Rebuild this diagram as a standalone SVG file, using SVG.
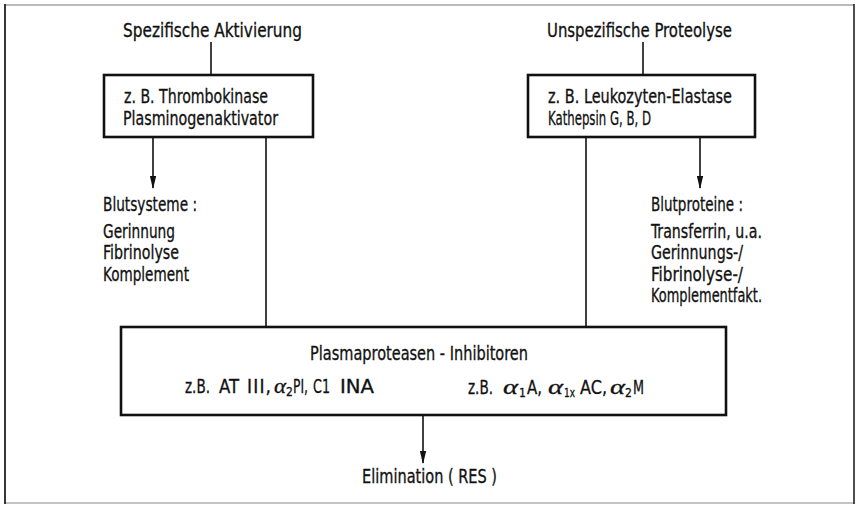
<svg xmlns="http://www.w3.org/2000/svg" width="859" height="505" viewBox="0 0 859 505">
<defs>
<style>
text{font-family:"Liberation Sans Narrow","DejaVu Sans Condensed","Liberation Sans",Arial,sans-serif;font-size:19px;fill:#111;stroke:#111;stroke-width:0.3;}
.box{fill:#fff;stroke:#111;stroke-width:2.6;}
.ln{stroke:#111;stroke-width:1.6;fill:none;}
.al{font-family:"Liberation Serif","DejaVu Serif",serif;font-style:italic;font-size:21px;}
.sub{font-size:12px;}
</style>
<marker id="ah" markerWidth="13" markerHeight="7" refX="12" refY="3.5" orient="auto" markerUnits="userSpaceOnUse" viewBox="0 0 13 7">
<path d="M0,0.3 L13,3.5 L0,6.7 Z" fill="#111"/>
</marker>
</defs>
<rect width="859" height="505" fill="#fff"/>
<g id="frame">
<line x1="5" y1="5" x2="854" y2="5" stroke="#777" stroke-width="1.2"/>
<line x1="5" y1="503" x2="854" y2="503" stroke="#888" stroke-width="1.2"/>
<line x1="5" y1="4" x2="5" y2="504" stroke="#222" stroke-width="1.8"/>
<line x1="854" y1="4" x2="854" y2="504" stroke="#222" stroke-width="1.6"/>
</g>
<g id="connectors">
<line class="ln" x1="211" y1="42" x2="211" y2="75"/>
<line class="ln" x1="643" y1="42" x2="643" y2="75"/>
<line class="ln" x1="153" y1="137" x2="153" y2="188" marker-end="url(#ah)"/>
<line class="ln" x1="700" y1="137" x2="700" y2="188" marker-end="url(#ah)"/>
<line class="ln" x1="266" y1="137" x2="266" y2="327"/>
<line class="ln" x1="586" y1="137" x2="586" y2="327"/>
<line class="ln" x1="423" y1="415" x2="423" y2="463" marker-end="url(#ah)"/>
</g>
<g id="label-spezifisch">
<text x="123" y="37" textLength="179" lengthAdjust="spacingAndGlyphs">Spezifische  Aktivierung</text>
</g>
<g id="label-unspezifisch">
<text x="547" y="37" textLength="185" lengthAdjust="spacingAndGlyphs">Unspezifische Proteolyse</text>
</g>
<g id="box-aktivatoren">
<rect class="box" x="104" y="75" width="209" height="62"/>
<text x="124" y="103" textLength="144" lengthAdjust="spacingAndGlyphs">z. B. Thrombokinase</text>
<text x="123" y="125" textLength="155" lengthAdjust="spacingAndGlyphs">Plasminogenaktivator</text>
</g>
<g id="box-proteasen">
<rect class="box" x="528" y="75" width="227" height="62"/>
<text x="548" y="103" textLength="184" lengthAdjust="spacingAndGlyphs">z. B. Leukozyten-Elastase</text>
<text x="548" y="125" textLength="103" lengthAdjust="spacingAndGlyphs">Kathepsin G, B, D</text>
</g>
<g id="blutsysteme">
<text x="103" y="211" textLength="94" lengthAdjust="spacingAndGlyphs">Blutsysteme :</text>
<text x="103" y="238" textLength="72" lengthAdjust="spacingAndGlyphs">Gerinnung</text>
<text x="103" y="259" textLength="76" lengthAdjust="spacingAndGlyphs">Fibrinolyse</text>
<text x="103" y="281" textLength="86" lengthAdjust="spacingAndGlyphs">Komplement</text>
</g>
<g id="blutproteine">
<text x="651" y="211" textLength="92" lengthAdjust="spacingAndGlyphs">Blutproteine :</text>
<text x="651" y="238" textLength="111" lengthAdjust="spacingAndGlyphs">Transferrin, u.a.</text>
<text x="651" y="259" textLength="92" lengthAdjust="spacingAndGlyphs">Gerinnungs-/</text>
<text x="651" y="281" textLength="92" lengthAdjust="spacingAndGlyphs">Fibrinolyse-/</text>
<text x="651" y="302" textLength="111" lengthAdjust="spacingAndGlyphs">Komplementfakt.</text>
</g>
<g id="box-inhibitoren">
<rect class="box" x="121" y="327" width="605" height="88"/>
<text x="310" y="360" textLength="218" lengthAdjust="spacingAndGlyphs">Plasmaproteasen - Inhibitoren</text>
<text x="185" y="393" textLength="25" lengthAdjust="spacingAndGlyphs">z.B.</text>
<text x="219" y="393" textLength="20" lengthAdjust="spacingAndGlyphs">AT</text>
<text x="247" y="393" textLength="24" lengthAdjust="spacing">I I I ,</text>
<text x="274" y="393" class="al" textLength="12" lengthAdjust="spacingAndGlyphs">α</text>
<text x="286" y="396" class="sub">2</text>
<text x="293" y="393" textLength="15" lengthAdjust="spacingAndGlyphs">PI,</text>
<text x="313" y="393" textLength="17" lengthAdjust="spacingAndGlyphs">C1</text>
<text x="340" y="393" textLength="34" lengthAdjust="spacingAndGlyphs">INA</text>
<text x="468" y="394" textLength="25" lengthAdjust="spacingAndGlyphs">z.B.</text>
<text x="503" y="394" class="al" textLength="15" lengthAdjust="spacingAndGlyphs">α</text>
<text x="519" y="397" class="sub">1</text>
<text x="527" y="394" textLength="15" lengthAdjust="spacingAndGlyphs">A,</text>
<text x="548" y="394" class="al" textLength="15" lengthAdjust="spacingAndGlyphs">α</text>
<text x="564" y="397" class="sub" textLength="11" lengthAdjust="spacingAndGlyphs">1x</text>
<text x="580" y="394" textLength="27" lengthAdjust="spacingAndGlyphs">AC,</text>
<text x="610" y="394" class="al" textLength="15" lengthAdjust="spacingAndGlyphs">α</text>
<text x="625" y="397" class="sub">2</text>
<text x="633" y="394" textLength="11" lengthAdjust="spacingAndGlyphs">M</text>
</g>
<g id="elimination">
<text x="362" y="483" textLength="135" lengthAdjust="spacingAndGlyphs">Elimination  ( RES )</text>
</g>
</svg>
